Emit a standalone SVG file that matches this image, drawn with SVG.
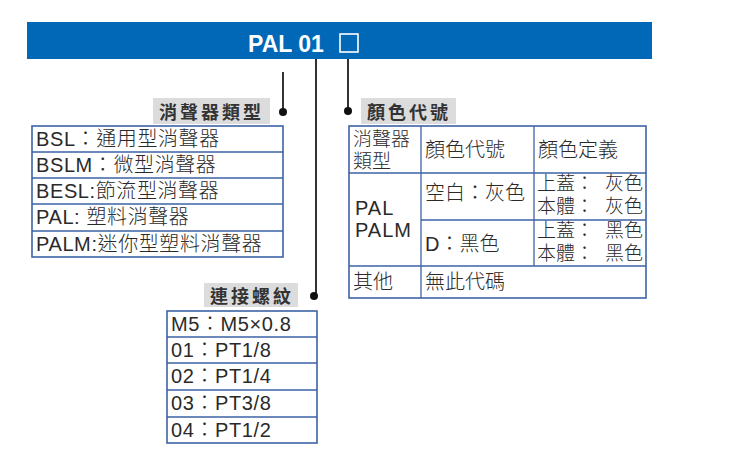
<svg xmlns="http://www.w3.org/2000/svg" width="741" height="475" viewBox="0 0 741 475">
<style>
.t{font-family:"Liberation Sans","Noto Sans CJK TC",sans-serif;font-size:20px;font-weight:300;fill:#2a2a2a;}
.s{font-size:19px;}
.lb{font-family:"Noto Sans CJK TC",sans-serif;font-size:18px;font-weight:bold;fill:#333;letter-spacing:3px;}
.box{fill:#dcdcdc;}
.tb{fill:#fff;stroke:#3d63a6;stroke-width:1.6;}
.gl{stroke:#3d63a6;stroke-width:1.3;fill:none;}
.cn{stroke:#333;stroke-width:2;fill:none;}
.dot{fill:#111;}
</style>
<rect width="741" height="475" fill="#fff"/>
<g id="header">
<rect x="27" y="22" width="625" height="37" fill="#0068b7"/>
<text x="248" y="52" font-family="'Liberation Sans',sans-serif" font-size="23" font-weight="bold" fill="#fff">PAL 01</text>
<rect x="340" y="34" width="18" height="18" fill="none" stroke="#fff" stroke-width="1.6"/>
</g>
<g id="connectors">
<line class="cn" x1="283" y1="72" x2="283" y2="112"/>
<circle class="dot" cx="283" cy="112" r="4"/>
<line class="cn" x1="316" y1="59" x2="316" y2="296"/>
<circle class="dot" cx="314" cy="296" r="4"/>
<line class="cn" x1="348" y1="59" x2="348" y2="110"/>
<circle class="dot" cx="348" cy="111" r="4"/>
</g>
<g id="type-table">
<rect class="box" x="153" y="98" width="117" height="26"/>
<text class="lb" x="159" y="119">消聲器類型</text>
<rect class="tb" x="32" y="126" width="251" height="131"/>
<path class="gl" d="M32 152H283M32 178H283M32 204H283M32 231H283"/>
<text class="t" x="36" y="146" letter-spacing="0.6">BSL：通用型消聲器</text>
<text class="t" x="36" y="172" letter-spacing="0.6">BSLM：微型消聲器</text>
<text class="t" x="36" y="198" letter-spacing="0.6">BESL:節流型消聲器</text>
<text class="t" x="36" y="224" letter-spacing="0.6">PAL: 塑料消聲器</text>
<text class="t" x="36" y="251" letter-spacing="0.6">PALM:迷你型塑料消聲器</text>
</g>
<g id="color-table">
<rect class="box" x="361" y="98" width="95" height="26"/>
<text class="lb" x="367" y="119">顏色代號</text>
<rect class="tb" x="349" y="126" width="297" height="172"/>
<path class="gl" d="M349 173H646M421 220H646M349 266H646M421 126V298M534 126V266"/>
<text class="t s" x="353" y="146">消聲器</text>
<text class="t s" x="353" y="168">類型</text>
<text class="t" x="425" y="157">顏色代號</text>
<text class="t" x="538" y="157">顏色定義</text>
<text class="t" x="355" y="215" letter-spacing="1">PAL</text>
<text class="t" x="355" y="237" letter-spacing="1">PALM</text>
<text class="t" x="425" y="200">空白：灰色</text>
<text class="t" x="425" y="251">D：黑色</text>
<text class="t s" x="537" y="190">上蓋：</text><text class="t s" x="643" y="190" text-anchor="end">灰色</text>
<text class="t s" x="537" y="213">本體：</text><text class="t s" x="643" y="213" text-anchor="end">灰色</text>
<text class="t s" x="537" y="237">上蓋：</text><text class="t s" x="643" y="237" text-anchor="end">黑色</text>
<text class="t s" x="537" y="260">本體：</text><text class="t s" x="643" y="260" text-anchor="end">黑色</text>
<text class="t" x="353" y="289">其他</text>
<text class="t" x="425" y="289">無此代碼</text>
</g>
<g id="thread-table">
<rect class="box" x="204" y="283" width="94" height="24"/>
<text class="lb" x="210" y="303">連接螺紋</text>
<rect class="tb" x="167" y="311" width="150" height="132"/>
<path class="gl" d="M167 337H317M167 363H317M167 390H317M167 417H317"/>
<text class="t" x="171" y="331" letter-spacing="0.6">M5：M5×0.8</text>
<text class="t" x="171" y="357" letter-spacing="0.6">01：PT1/8</text>
<text class="t" x="171" y="383" letter-spacing="0.6">02：PT1/4</text>
<text class="t" x="171" y="410" letter-spacing="0.6">03：PT3/8</text>
<text class="t" x="171" y="437" letter-spacing="0.6">04：PT1/2</text>
</g>
</svg>
